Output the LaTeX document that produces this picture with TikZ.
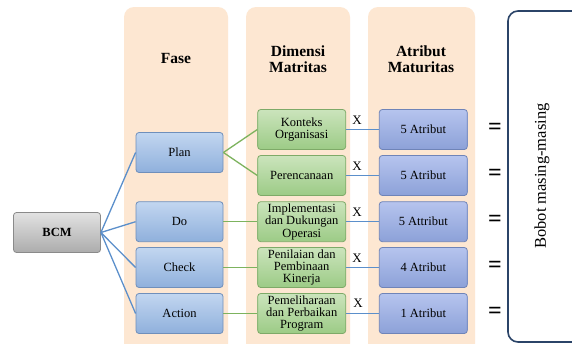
\documentclass[tikz,border=0pt]{standalone}
\usepackage{fontspec}
\setmainfont{Liberation Serif}
\begin{document}
\begin{tikzpicture}[x=1pt,y=-1pt,
  col/.style={fill=peach,draw=none,rounded corners=10pt},
  boxbase/.style={rounded corners=3pt,line width=0.8pt,minimum height=40pt,align=center,font=\fontsize{12.5}{12.3}\selectfont,inner sep=0.5pt},
  phase/.style={boxbase,draw=phaseD,top color=phaseT,bottom color=phaseB,minimum width=87pt},
  dim/.style={boxbase,draw=dimD,top color=dimT,bottom color=dimB,minimum width=88pt},
  attr/.style={boxbase,draw=attD,top color=attT,bottom color=attB,minimum width=88pt},
  root/.style={boxbase,draw=rootD,top color=rootT,bottom color=rootB,minimum width=87pt,font=\bfseries\fontsize{12.5}{13}\selectfont},
  head/.style={align=center,font=\bfseries\fontsize{15.5}{16}\selectfont},
  bl/.style={draw=lineB,line width=1.3pt},
  gl/.style={draw=lineG,line width=1.3pt},
  eq/.style={font=\bfseries\fontsize{24}{24}\selectfont},
  xl/.style={font=\fontsize{13}{13}\selectfont}
]
\definecolor{peach}{HTML}{FDE7D2}
\definecolor{phaseD}{HTML}{6F8FBB}
\definecolor{phaseT}{HTML}{C2D6F0}
\definecolor{phaseB}{HTML}{8FB0DC}
\definecolor{dimD}{HTML}{7EAA68}
\definecolor{dimT}{HTML}{CBE4BC}
\definecolor{dimB}{HTML}{9CCB86}
\definecolor{attD}{HTML}{6F84B8}
\definecolor{attT}{HTML}{B6C4EE}
\definecolor{attB}{HTML}{8CA1D8}
\definecolor{rootD}{HTML}{8A8A8A}
\definecolor{rootT}{HTML}{E2E2E2}
\definecolor{rootB}{HTML}{ACACAC}
\definecolor{lineB}{HTML}{5B8FCB}
\definecolor{lineG}{HTML}{7DB35E}
\definecolor{navy}{HTML}{2B4468}
\useasboundingbox (0,0) rectangle (572,343);
\fill[white] (0,0) rectangle (572,343);
% columns
\path[col] (124,7) rectangle (228,360);
\path[col] (246,7) rectangle (350,360);
\path[col] (368,7) rectangle (475,360);
\draw[navy,line width=1.6pt,rounded corners=10pt] (590,342) -- (508,342) -- (508,11) -- (590,11);
% headings
\node[head] (hF) at (176,58) {Fase};
\node[head] (hD) at (298,59) {Dimensi\\Matritas};
\node[head] (hA) at (421,59) {Atribut\\Maturitas};
% root
\node[root] (bcm) at (57,232.5) {BCM};
% phases
\node[phase] (plan) at (179.5,152.5) {Plan};
\node[phase] (do) at (179.5,221.7) {Do};
\node[phase] (check) at (179.5,267.5) {Check};
\node[phase] (action) at (179.5,313.5) {Action};
% dimensions
\node[dim] (d1) at (301.7,129.5) {Konteks\\Organisasi};
\node[dim] (d2) at (301.7,175.5) {Perencanaan};
\node[dim] (d3) at (301.7,221.7) {Implementasi\\dan Dukungan\\Operasi};
\node[dim] (d4) at (301.7,267.5) {Penilaian dan\\Pembinaan\\Kinerja};
\node[dim] (d5) at (301.7,313.5) {Pemeliharaan\\dan Perbaikan\\Program};
% attributes
\node[attr] (a1) at (423.3,129.5) {5 Atribut};
\node[attr] (a2) at (423.3,175.5) {5 Atribut};
\node[attr] (a3) at (423.3,221.7) {5 Attribut};
\node[attr] (a4) at (423.3,267.5) {4 Atribut};
\node[attr] (a5) at (423.3,313.5) {1 Atribut};
% connectors
\draw[bl] (bcm.east) -- (plan.west);
\draw[bl] (bcm.east) -- (do.west);
\draw[bl] (bcm.east) -- (check.west);
\draw[bl] (bcm.east) -- (action.west);
\draw[gl] (plan.east) -- (d1.west);
\draw[gl] (plan.east) -- (d2.west);
\draw[gl] (do.east) -- (d3.west);
\draw[gl] (check.east) -- (d4.west);
\draw[gl] (action.east) -- (d5.west);
\foreach \i in {1,...,5} {\draw[bl] (d\i.east) -- (a\i.west);}
% X labels
\node[xl] (x1) at (357,120.5) {X};
\node[xl] (x2) at (357,166.5) {X};
\node[xl] (x3) at (357,212.5) {X};
\node[xl] (x4) at (357,258.5) {X};
\node[xl] (x5) at (358,303.5) {X};
% equals
\node[eq] (e1) at (495,128.5) {=};
\node[eq] (e2) at (495,174.5) {=};
\node[eq] (e3) at (495,220.5) {=};
\node[eq] (e4) at (495,266.5) {=};
\node[eq] (e5) at (495,312.5) {=};
% bobot
\node[rotate=90,font=\fontsize{16.5}{16.5}\selectfont] (bobot) at (542,176) {Bobot masing-masing};
\end{tikzpicture}
\end{document}
